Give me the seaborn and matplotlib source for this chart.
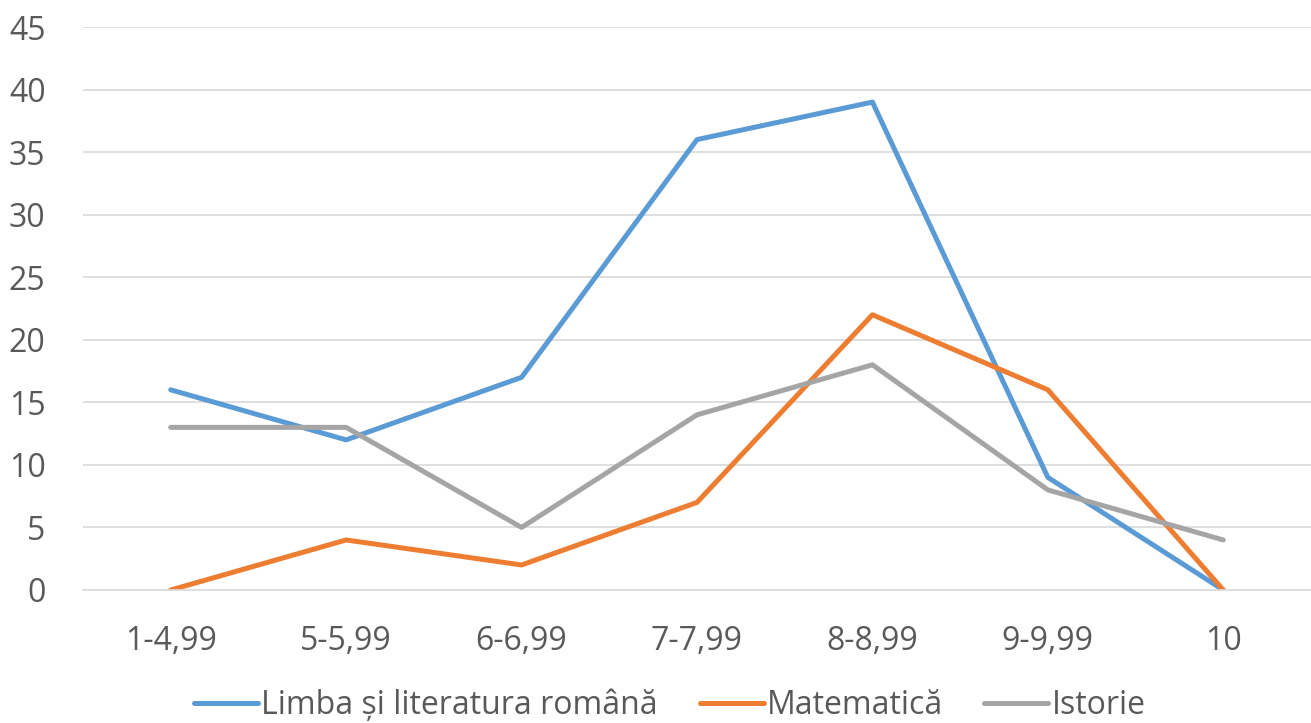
import numpy as np
import pandas as pd
import matplotlib
matplotlib.use("Agg")
import matplotlib.pyplot as plt
import seaborn as sns

categories = ["1-4,99", "5-5,99", "6-6,99", "7-7,99", "8-8,99", "9-9,99", "10"]
limba = [16, 12, 17, 36, 39, 9, 0]
matematica = [0, 4, 2, 7, 22, 16, 0]
istorie = [13, 13, 5, 14, 18, 8, 4]

series_names = ["Limba și literatura română", "Matematică", "Istorie"]
colors = ["#5B9BD5", "#ED7D31", "#A5A5A5"]

df = pd.DataFrame({
    "x": list(range(len(categories))) * 3,
    "val": limba + matematica + istorie,
    "serie": [series_names[0]] * 7 + [series_names[1]] * 7 + [series_names[2]] * 7,
})

sns.set_style("white")
plt.rcParams['font.family'] = ['Open Sans', 'DejaVu Sans']

fig = plt.figure(figsize=(13.11, 7.23), dpi=100)
ax = fig.add_axes([83 / 1311, 1 - 590 / 723, 1 - 83 / 1311, (590 - 27) / 723])

for y in range(5, 50, 5):
    ax.axhline(y, color="#D9D9D9", lw=1.2, zorder=0)

sns.lineplot(data=df, x="x", y="val", hue="serie", palette=colors,
             hue_order=series_names, lw=3.6, ax=ax, legend=True)

ax.set_xlim(-0.5, len(categories) - 0.5)
ax.set_ylim(0, 45)
ax.set_yticks(range(0, 50, 5))
ax.set_xticks(range(len(categories)))
ax.set_xticklabels(categories)
ax.tick_params(axis="both", labelsize=23, colors="#595959", length=0)
ax.tick_params(axis="x", pad=25)
ax.tick_params(axis="y", pad=27)
ax.set_xlabel("")
ax.set_ylabel("")
for s in ["top", "right", "left"]:
    ax.spines[s].set_visible(False)
ax.spines["bottom"].set_color("#D9D9D9")
ax.spines["bottom"].set_linewidth(1.2)

leg = ax.legend(loc="center", bbox_to_anchor=(0.478, -0.206), ncol=3,
                frameon=False, fontsize=23, handlelength=2.0, columnspacing=1.3,
                handletextpad=0.1)
for t in leg.get_texts():
    t.set_color("#595959")
for h in leg.get_lines():
    h.set_linewidth(3.6)

fig.savefig("out.png", dpi=100)
